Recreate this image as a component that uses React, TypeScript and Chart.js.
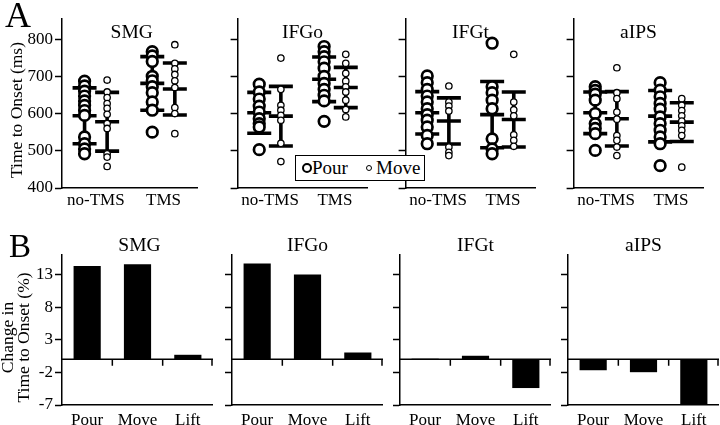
import React, { useEffect, useRef } from 'react';
import { Chart, registerables } from 'chart.js';
Chart.register(...registerables);

const FONT = "'Liberation Serif', 'Times New Roman', serif";

const regions = ['SMG', 'IFGo', 'IFGt', 'aIPS'];
const conditionLabels = ['no-TMS', 'TMS'];
const onsetTicks = [400, 500, 600, 700, 800];
const actionLabels = ['Pour', 'Move', 'Lift'];
const changeTicks = [13, 8, 3, -2, -7];

// Panel A: individual times to onset (ms)
const smgPourNoTMS = [687, 674, 660, 647, 634, 622, 608, 595, 537, 519, 505, 492];
const smgMoveNoTMS = [690, 658, 643, 627, 614, 598, 573, 560, 492, 483, 458];
const smgPourTMS = [766, 755, 740, 700, 688, 672, 656, 631, 609, 550];
const smgMoveTMS = [785, 735, 720, 705, 688, 670, 616, 600, 546];

const ifgoPourNoTMS = [679, 658, 639, 620, 604, 586, 573, 564, 503];
const ifgoMoveNoTMS = [749, 665, 622, 609, 595, 582, 520, 471];
const ifgoPourTMS = [780, 766, 753, 739, 722, 700, 681, 665, 649, 634, 579];
const ifgoMoveTMS = [759, 735, 708, 687, 672, 658, 636, 611, 591];

const ifgtPourNoTMS = [701, 683, 665, 647, 631, 613, 597, 582, 564, 541, 519];
const ifgtMoveNoTMS = [674, 631, 620, 607, 510, 496, 487];
const ifgtPourTMS = [789, 672, 656, 636, 613, 532, 505, 492];
const ifgtMoveTMS = [759, 631, 610, 594, 543, 528, 512];

const aipsPourNoTMS = [672, 662, 652, 636, 600, 573, 560, 546, 501];
const aipsMoveNoTMS = [723, 656, 640, 604, 585, 541, 528, 510, 487];
const aipsPourTMS = [683, 663, 645, 627, 612, 591, 573, 555, 537, 519, 460];
const aipsMoveTMS = [640, 622, 608, 594, 580, 567, 555, 541, 456];

// mean and SD, order: Pour no-TMS, Move no-TMS, Pour TMS, Move TMS
const smgMean = [594, 578, 681, 666];
const smgSD = [75, 79, 72, 70];
const ifgoMean = [602, 593, 692, 670];
const ifgoSD = [55, 80, 60, 54];
const ifgtMean = [602, 580, 597, 584];
const ifgtSD = [57, 62, 89, 74];
const aipsMean = [602, 586, 593, 577];
const aipsSD = [56, 73, 69, 52];

// Panel B: change in time to onset (%)
const smgChange = [14.3, 14.6, 0.7];
const ifgoChange = [14.7, 13.0, 1.05];
const ifgtChange = [0.1, 0.55, -4.4];
const aipsChange = [-1.67, -1.97, -7.3];

const pourNoTMS = [smgPourNoTMS, ifgoPourNoTMS, ifgtPourNoTMS, aipsPourNoTMS];
const moveNoTMS = [smgMoveNoTMS, ifgoMoveNoTMS, ifgtMoveNoTMS, aipsMoveNoTMS];
const pourTMS = [smgPourTMS, ifgoPourTMS, ifgtPourTMS, aipsPourTMS];
const moveTMS = [smgMoveTMS, ifgoMoveTMS, ifgtMoveTMS, aipsMoveTMS];
const means = [smgMean, ifgoMean, ifgtMean, aipsMean];
const sds = [smgSD, ifgoSD, ifgtSD, aipsSD];
const changes = [smgChange, ifgoChange, ifgtChange, aipsChange];

const PLOT_LEFT = [62, 232, 400, 568];
const PLOT_W = 151;

function axisWidth(i: number) {
  return i === 0 ? 62 : 10;
}

function textPlugin(draw: (ctx: CanvasRenderingContext2D, chart: any) => void) {
  return {
    id: 'extraText',
    afterDraw(chart: any) {
      const ctx = chart.ctx;
      ctx.save();
      ctx.fillStyle = '#000';
      draw(ctx, chart);
      ctx.restore();
    },
  };
}

function onsetConfig(i: number): any {
  const pour = [
    ...pourNoTMS[i].map((v) => ({ x: 1, y: v })),
    ...pourTMS[i].map((v) => ({ x: 4, y: v })),
  ];
  const move = [
    ...moveNoTMS[i].map((v) => ({ x: 2, y: v })),
    ...moveTMS[i].map((v) => ({ x: 5, y: v })),
  ];
  const xs = [1, 2, 4, 5];
  const caps: any[] = [];
  const stems: any[] = [];
  xs.forEach((x, k) => {
    const m = means[i][k];
    const s = sds[i][k];
    caps.push({ x, y: m }, { x, y: m - s }, { x, y: m + s });
    stems.push({ x, y: m - s }, { x, y: m + s }, { x, y: null });
  });
  return {
    type: 'scatter',
    data: {
      datasets: [
        { label: 'Move', data: move, pointRadius: 3.2, pointBorderWidth: 1.3, pointBackgroundColor: '#fff', pointBorderColor: '#000', order: 0 },
        { label: 'Pour', data: pour, pointRadius: 5.3, pointBorderWidth: 2.7, pointBackgroundColor: '#fff', pointBorderColor: '#000', order: 1 },
        { label: 'mean ± SD', data: caps, pointStyle: 'line', pointRadius: 12, pointBorderWidth: 3.6, pointBorderColor: '#000', pointBackgroundColor: '#000', order: 2 },
        { label: 'SD', data: stems, showLine: true, spanGaps: false, borderWidth: 3.6, borderColor: '#000', pointRadius: 0, order: 3 },
      ],
    },
    options: {
      responsive: false,
      animation: false,
      events: [],
      layout: { padding: { top: 19, right: 0, left: 0, bottom: 0 } },
      plugins: { legend: { display: false }, tooltip: { enabled: false } },
      scales: {
        x: {
          type: 'linear',
          min: 0,
          max: 6,
          afterBuildTicks: (s: any) => {
            s.ticks = [{ value: 1.5 }, { value: 4.5 }];
          },
          afterFit: (s: any) => {
            s.height = 22;
          },
          ticks: {
            callback: (v: number) => (v < 3 ? conditionLabels[0] : conditionLabels[1]),
            font: { family: FONT, size: 17 },
            color: '#000',
            padding: 2,
            maxRotation: 0,
            autoSkip: false,
          },
          grid: { display: false, drawTicks: false },
          border: { display: true, color: '#000', width: 1.5 },
        },
        y: {
          min: 400,
          max: 854,
          afterBuildTicks: (s: any) => {
            s.ticks = onsetTicks.map((v) => ({ value: v }));
          },
          afterFit: (s: any) => {
            s.width = axisWidth(i);
          },
          ticks: { display: i === 0, font: { family: FONT, size: 17 }, color: '#000', padding: 2 },
          grid: { display: true, drawOnChartArea: false, drawTicks: true, tickLength: 7, tickColor: '#000', tickWidth: 1.5, color: '#000' },
          border: { display: true, color: '#000', width: 1.5 },
        },
      },
    },
    plugins: [
      textPlugin((ctx, chart) => {
        const a = chart.chartArea;
        ctx.font = `19.5px ${FONT}`;
        ctx.textAlign = 'center';
        ctx.textBaseline = 'alphabetic';
        ctx.fillText(regions[i], (a.left + a.right) / 2 + (i === 0 ? 2 : 0), 38);
        if (i === 0) {
          ctx.font = `36px ${FONT}`;
          ctx.textAlign = 'left';
          ctx.fillText('A', 5, 27);
          ctx.save();
          ctx.translate(22, 110);
          ctx.rotate(-Math.PI / 2);
          ctx.font = `17.5px ${FONT}`;
          ctx.textAlign = 'center';
          ctx.fillText('Time to Onset (ms)', 0, 0);
          ctx.restore();
        }
      }),
    ],
  };
}

function changeConfig(i: number): any {
  return {
    type: 'bar',
    data: {
      labels: actionLabels,
      datasets: [
        { label: regions[i], data: changes[i], backgroundColor: '#000', borderWidth: 0, barPercentage: 0.54, categoryPercentage: 1 },
      ],
    },
    options: {
      responsive: false,
      animation: false,
      events: [],
      layout: { padding: { top: 40, right: 0, left: 0, bottom: 0 } },
      plugins: { legend: { display: false }, tooltip: { enabled: false } },
      scales: {
        x: {
          afterFit: (s: any) => {
            s.height = 20;
          },
          ticks: { font: { family: FONT, size: 17 }, color: '#000', padding: 5, maxRotation: 0, autoSkip: false },
          grid: { display: false, drawTicks: false },
          border: { display: true, color: '#000', width: 1.5 },
        },
        y: {
          min: -7,
          max: 16,
          afterBuildTicks: (s: any) => {
            s.ticks = changeTicks.map((v) => ({ value: v }));
          },
          afterFit: (s: any) => {
            s.width = axisWidth(i);
          },
          ticks: { display: i === 0, font: { family: FONT, size: 17 }, color: '#000', padding: 2 },
          grid: { display: true, drawOnChartArea: false, drawTicks: true, tickLength: 7, tickColor: '#000', tickWidth: 1.5, color: '#000' },
          border: { display: true, color: '#000', width: 1.5 },
        },
      },
    },
    plugins: [
      {
        id: 'zeroLine',
        afterDatasetsDraw(chart: any) {
          const { ctx, chartArea, scales } = chart;
          const y0 = scales.y.getPixelForValue(0);
          ctx.save();
          ctx.strokeStyle = '#000';
          ctx.lineWidth = 1.5;
          ctx.beginPath();
          ctx.moveTo(chartArea.left, y0);
          ctx.lineTo(chartArea.right, y0);
          const n = actionLabels.length;
          for (let k = 1; k <= n; k++) {
            const xb = k < n ? (scales.x.getPixelForValue(k - 1) + scales.x.getPixelForValue(k)) / 2 : chartArea.right - 1;
            ctx.moveTo(xb, y0);
            ctx.lineTo(xb, y0 + 6.5);
          }
          ctx.stroke();
          ctx.restore();
        },
      },
      textPlugin((ctx, chart) => {
        const a = chart.chartArea;
        ctx.font = `19.5px ${FONT}`;
        ctx.textAlign = 'center';
        ctx.textBaseline = 'alphabetic';
        ctx.fillText(regions[i], (a.left + a.right) / 2 + (i === 0 ? 2 : 0), 36);
        if (i === 0) {
          ctx.font = `33px ${FONT}`;
          ctx.textAlign = 'left';
          ctx.fillText('B', 9, 42);
          ctx.save();
          ctx.translate(12.5, 122.5);
          ctx.rotate(-Math.PI / 2);
          ctx.font = `17.5px ${FONT}`;
          ctx.textAlign = 'center';
          ctx.fillText('Change in', 0, 0);
          ctx.restore();
          ctx.save();
          ctx.translate(29, 122.5);
          ctx.rotate(-Math.PI / 2);
          ctx.font = `17.5px ${FONT}`;
          ctx.textAlign = 'center';
          ctx.fillText('Time to Onset (%)', 0, 0);
          ctx.restore();
        }
      }),
    ],
  };
}

function ChartCanvas(props: { left: number; top: number; width: number; height: number; make: () => any }) {
  const ref = useRef<HTMLCanvasElement>(null);
  useEffect(() => {
    const chart = new Chart(ref.current as HTMLCanvasElement, props.make());
    return () => chart.destroy();
  }, []);
  return (
    <canvas
      ref={ref}
      width={props.width}
      height={props.height}
      style={{ position: 'absolute', left: props.left, top: props.top, width: props.width, height: props.height }}
    />
  );
}

export default function App() {
  useEffect(() => {
    document.body.style.margin = '0';
    document.body.style.background = '#fff';
  }, []);
  return (
    <div style={{ position: 'relative', width: 720, height: 425, background: '#fff', overflow: 'hidden' }}>
      {regions.map((r, i) => (
        <ChartCanvas
          key={'a' + r}
          left={PLOT_LEFT[i] - axisWidth(i)}
          top={0}
          width={axisWidth(i) + PLOT_W}
          height={210}
          make={() => onsetConfig(i)}
        />
      ))}
      {regions.map((r, i) => (
        <ChartCanvas
          key={'b' + r}
          left={PLOT_LEFT[i] - axisWidth(i)}
          top={215}
          width={axisWidth(i) + PLOT_W}
          height={210}
          make={() => changeConfig(i)}
        />
      ))}
      <div
        style={{
          position: 'absolute',
          left: 295,
          top: 155,
          width: 128,
          height: 24,
          border: '1.3px solid #000',
          background: '#fff',
          fontFamily: FONT,
          fontSize: 19,
          lineHeight: '19px',
          color: '#000',
        }}
      >
        <span style={{ position: 'absolute', left: 6, top: 7, width: 6, height: 6, border: '2.5px solid #000', borderRadius: '50%' }} />
        <span style={{ position: 'absolute', left: 16, top: 2 }}>Pour</span>
        <span style={{ position: 'absolute', left: 70, top: 9, width: 4, height: 4, border: '1.1px solid #000', borderRadius: '50%' }} />
        <span style={{ position: 'absolute', left: 80, top: 2 }}>Move</span>
      </div>
    </div>
  );
}
